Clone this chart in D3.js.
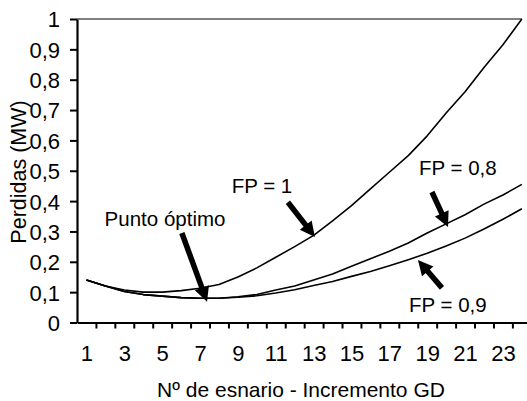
<!DOCTYPE html>
<html><head><meta charset="utf-8">
<script src="https://cdn.jsdelivr.net/npm/d3@7"></script>
<style>
html,body{margin:0;padding:0;background:#fff;}
text{font-family:"Liberation Sans",Arial,sans-serif;fill:#000;}
</style></head>
<body><svg id="c" width="527" height="401"></svg>
<script>
const categories = d3.range(1, 25);
const fp1  = [0.14,0.12,0.107,0.10,0.10,0.105,0.113,0.125,0.15,0.18,0.215,0.25,0.287,0.335,0.385,0.44,0.495,0.55,0.615,0.69,0.76,0.84,0.915,1.0];
const fp08 = [0.14,0.12,0.102,0.092,0.087,0.082,0.08,0.08,0.085,0.092,0.107,0.12,0.14,0.16,0.185,0.21,0.235,0.262,0.295,0.325,0.355,0.39,0.42,0.455];
const fp09 = [0.14,0.12,0.102,0.092,0.087,0.082,0.08,0.08,0.083,0.088,0.097,0.108,0.122,0.135,0.152,0.168,0.187,0.207,0.228,0.252,0.278,0.308,0.34,0.375];
const yTicks = d3.range(0, 1.0001, 0.1).map(v => +v.toFixed(1));
const xTickLabels = [1,3,5,7,9,11,13,15,17,19,21,23];
// annotations in data units: [category, value]
const annLabels = ["Punto óptimo", "FP = 1", "FP = 0,8", "FP = 0,9"];
const annText   = [[5.15,0.318],[10.27,0.427],[20.62,0.486],[20.09,0.035]];
const annFrom   = [[6.04,0.295],[11.64,0.396],[19.25,0.43],[19.78,0.114]];
const annTo     = [[7.37,0.068],[13.07,0.282],[20.1,0.315],[18.51,0.206]];

const svg = d3.select("#c");
const step = 18.93;
const left = 77;
const x = d3.scaleLinear().domain([0.5, 24.5]).range([left, left + 24*step]);
const y = d3.scaleLinear().domain([0, 1]).range([322.5, 19]);

// top border line
svg.append("line").attr("x1", x(0.5)).attr("x2", x(24)).attr("y1", y(1)).attr("y2", y(1))
  .attr("stroke", "#808080").attr("stroke-width", 2);

// series
const line = d3.line().x((d,i) => x(categories[i])).y(d => y(d));
[fp1, fp08, fp09].forEach(s => {
  svg.append("path").attr("d", line(s)).attr("fill", "none")
    .attr("stroke", "#000").attr("stroke-width", 1.6).attr("stroke-linejoin","round");
});

// y axis
const yAxis = d3.axisLeft(y).tickValues(yTicks).tickSize(7).tickSizeOuter(0).tickPadding(10)
  .tickFormat(d => String(d).replace(".", ","));
const gy = svg.append("g").attr("transform", `translate(${left},0)`).call(yAxis);
gy.select(".domain").attr("stroke", "#000").attr("stroke-width", 2.2);
gy.selectAll(".tick line").attr("stroke", "#000").attr("stroke-width", 2);
gy.selectAll("text").style("font-size", "22px").attr("dy", "0.36em");

// x axis tick marks
const xAxis = d3.axisBottom(x).tickValues(d3.range(0.5, 24.6, 1)).tickSize(6).tickSizeOuter(0).tickFormat("");
const gx = svg.append("g").attr("transform", `translate(0,${y(0)})`).call(xAxis);
gx.select(".domain").attr("stroke", "#000").attr("stroke-width", 2.2);
gx.selectAll(".tick line").attr("stroke", "#000").attr("stroke-width", 2);
gx.selectAll(".tick").filter(d => d === 0.5).select("line").remove();

// x labels
const xLab = d3.axisBottom(x).tickValues(xTickLabels).tickSize(0).tickPadding(0).tickFormat(d => d);
const gxl = svg.append("g").attr("transform", `translate(0,${y(0)})`).call(xLab);
gxl.select(".domain").remove();
gxl.selectAll("text").style("font-size", "22px").attr("y", 38.5).attr("dy", 0);

// titles
svg.append("text").attr("x", 301).attr("y", 397).attr("text-anchor", "middle")
  .style("font-size", "21px").text("Nº de esnario - Incremento GD");
svg.append("text").attr("transform", "translate(26,172) rotate(-90)").attr("text-anchor", "middle")
  .style("font-size", "21.5px").text("Perdidas (MW)");

// annotations
annLabels.forEach((t, i) => {
  svg.append("text").attr("x", x(annText[i][0])).attr("y", y(annText[i][1]))
    .attr("text-anchor", "middle").style("font-size", "20.5px").text(t);
  const x0 = x(annFrom[i][0]), y0 = y(annFrom[i][1]);
  const x1 = x(annTo[i][0]),   y1 = y(annTo[i][1]);
  const dx = x1 - x0, dy = y1 - y0, L = Math.hypot(dx, dy);
  const ux = dx / L, uy = dy / L, px = -uy, py = ux;
  const hl = 15, hw = 7.5;
  const bx = x1 - ux*hl, by = y1 - uy*hl;
  svg.append("line").attr("x1", x0).attr("y1", y0).attr("x2", bx + ux*2).attr("y2", by + uy*2)
    .attr("stroke", "#000").attr("stroke-width", 5.5);
  svg.append("path").attr("d", `M${x1},${y1}L${bx+px*hw},${by+py*hw}L${bx-px*hw},${by-py*hw}Z`)
    .attr("fill", "#000");
});
</script></body></html>
